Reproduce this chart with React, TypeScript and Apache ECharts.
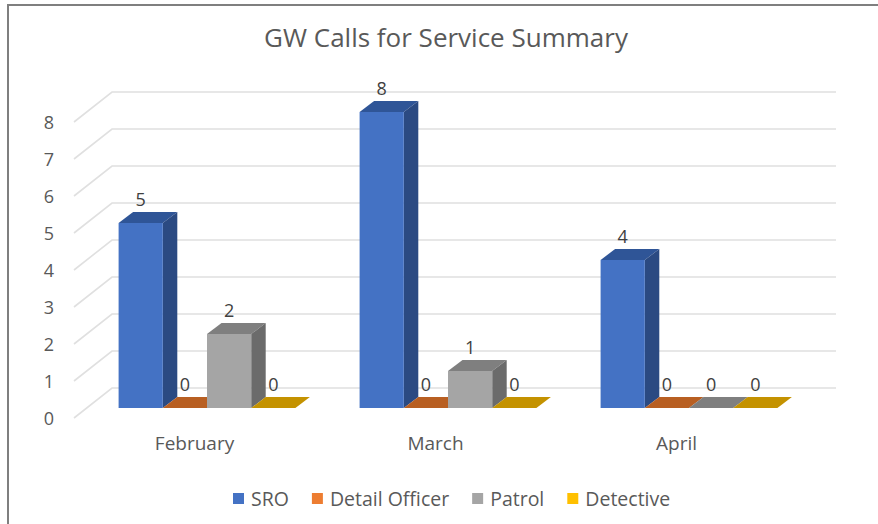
import React, { useEffect, useRef } from "react";
import * as echarts from "echarts";

const categories = ["February", "March", "April"];
const yTicks = [0, 1, 2, 3, 4, 5, 6, 7, 8];
const sro = [5, 8, 4];
const detailOfficer = [0, 0, 0];
const patrol = [2, 1, 0];
const detective = [0, 0, 0];

const seriesNames = ["SRO", "Detail Officer", "Patrol", "Detective"];
const seriesValues = [sro, detailOfficer, patrol, detective];
const legendColors = ["#4472C4", "#ED7D31", "#A5A5A5", "#FFC000"];
const frontColors = ["#4472C4", "#C0602A", "#A5A5A5", "#C49200"];
const topColors = ["#2F5597", "#B85F22", "#7F7F7F", "#C49200"];
const sideColors = ["#2B4A82", "#8F4A1C", "#6B6B6B", "#8F6B00"];

const FONT = "'Open Sans', 'Noto Sans', sans-serif";
const TEXT = "#595959";
const GRID_COLOR = "#E0E0E0";
const WALL_DX = 38;
const WALL_DY = -30;
const PLANE_DX = 12.5;
const PLANE_DY = -10;
const BAR_DX = 14.5;
const BAR_DY = -11;
const BAR_RATIO = 44.2 / 241;

const renderGrid = (_p: any, api: any) => {
  const [x0, y] = api.coord([0, api.value(0)]);
  const band = api.size([1, 0])[0];
  const left = x0 - band / 2;
  const right = left + band * categories.length;
  return {
    type: "polyline",
    silent: true,
    shape: {
      points: [
        [left, y],
        [left + WALL_DX, y + WALL_DY],
        [right + WALL_DX + 1, y + WALL_DY],
      ],
    },
    style: { stroke: GRID_COLOR, lineWidth: 1.6, fill: "none" },
  };
};

const makeRenderBar = (index: number) => (_p: any, api: any) => {
  const cat = api.value(0);
  const value = api.value(1);
  const [cx, yTop] = api.coord([cat, value]);
  const [, yBase] = api.coord([cat, 0]);
  const band = api.size([1, 0])[0];
  const w = band * BAR_RATIO;
  const x = cx + PLANE_DX + (index - 2) * w;
  const top = yTop + PLANE_DY;
  const base = yBase + PLANE_DY;
  const r = x + w;
  const children: any[] = [
    {
      type: "polygon",
      shape: { points: [[x, top], [r, top], [r + BAR_DX, top + BAR_DY], [x + BAR_DX, top + BAR_DY]] },
      style: { fill: topColors[index] },
    },
  ];
  if (value > 0) {
    children.push(
      {
        type: "polygon",
        shape: { points: [[r, top], [r + BAR_DX, top + BAR_DY], [r + BAR_DX, base + BAR_DY], [r, base]] },
        style: { fill: sideColors[index] },
      },
      {
        type: "rect",
        shape: { x, y: top, width: w, height: base - top },
        style: { fill: frontColors[index] },
      }
    );
  }
  children.push({
    type: "text",
    z2: 10,
    style: {
      x: x + w / 2,
      y: top - 24,
      text: String(value),
      fill: "#404040",
      font: `18px ${FONT}`,
      align: "center",
      verticalAlign: "middle",
    },
  });
  return { type: "group", children };
};

export default function App() {
  const ref = useRef<HTMLDivElement>(null);
  useEffect(() => {
    const chart = echarts.init(ref.current!, undefined, { renderer: "svg" });
    chart.setOption({
      animation: false,
      backgroundColor: "#FFFFFF",
      title: {
        text: "GW Calls for Service Summary",
        left: 441,
        top: 19,
        textAlign: "center",
        textStyle: { color: TEXT, fontSize: 26, fontWeight: "normal", fontFamily: FONT },
      },
      legend: {
        data: seriesNames,
        left: 228,
        top: 483.5,
        icon: "rect",
        itemWidth: 11,
        itemHeight: 11,
        itemGap: 23,
        textStyle: { color: TEXT, fontSize: 19.5, fontFamily: FONT, padding: [0, 0, 0, 2] },
      },
      grid: { left: 74, top: 122, width: 723, height: 296 },
      xAxis: {
        type: "category",
        data: categories,
        axisLine: { show: false },
        axisTick: { show: false },
        axisLabel: { color: TEXT, fontSize: 19, fontFamily: FONT, margin: 15 },
      },
      yAxis: {
        type: "value",
        min: 0,
        max: 8,
        interval: 1,
        axisLine: { show: false },
        axisTick: { show: false },
        splitLine: { show: false },
        axisLabel: { color: TEXT, fontSize: 18, fontFamily: FONT, margin: 25, align: "center", padding: [0, 0, 12, 0] },
      },
      graphic: [
        {
          type: "polyline",
          silent: true,
          shape: { points: [[8, 524], [8, 5], [878, 5]] },
          style: { stroke: "#7F7F7F", lineWidth: 2, fill: "none" },
        },
      ],
      series: [
        {
          type: "custom",
          name: "grid",
          silent: true,
          z: 1,
          encode: { y: 0 },
          data: yTicks.map((t) => [t]),
          renderItem: renderGrid,
        },
        ...seriesNames.map((name, i) => ({
          type: "custom",
          name,
          z: 2 + i,
          itemStyle: { color: legendColors[i] },
          encode: { x: 0, y: 1 },
          data: seriesValues[i].map((v, c) => [c, v]),
          renderItem: makeRenderBar(i),
        })),
      ],
    });
    return () => chart.dispose();
  }, []);
  return <div ref={ref} style={{ position: "absolute", left: 0, top: 0, width: 878, height: 524 }} />;
}
